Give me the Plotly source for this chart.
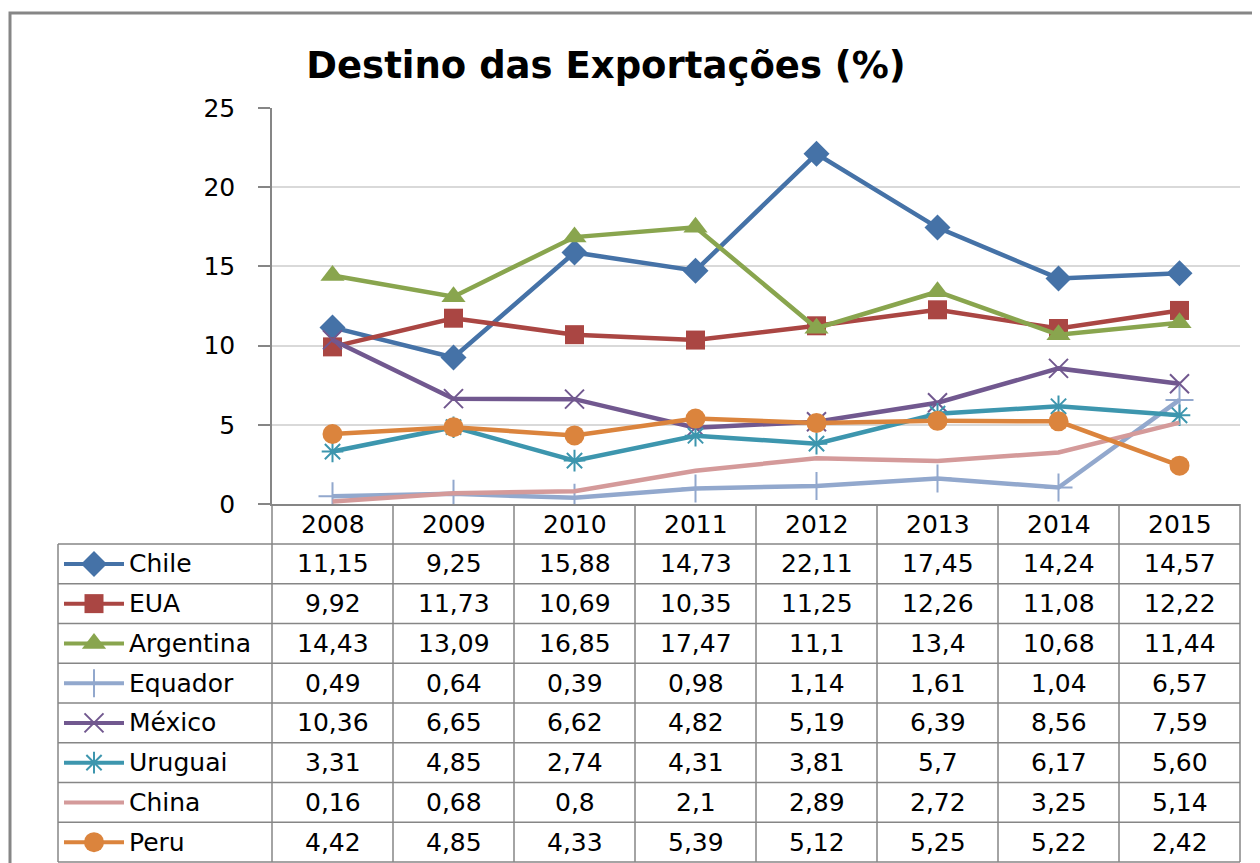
import plotly.graph_objects as go

# dados (como na tabela do Excel)
years = ["2008", "2009", "2010", "2011", "2012", "2013", "2014", "2015"]
countries = ["Chile", "EUA", "Argentina", "Equador", "México", "Uruguai", "China", "Peru"]
chile = ["11,15", "9,25", "15,88", "14,73", "22,11", "17,45", "14,24", "14,57"]
eua = ["9,92", "11,73", "10,69", "10,35", "11,25", "12,26", "11,08", "12,22"]
argentina = ["14,43", "13,09", "16,85", "17,47", "11,1", "13,4", "10,68", "11,44"]
equador = ["0,49", "0,64", "0,39", "0,98", "1,14", "1,61", "1,04", "6,57"]
mexico = ["10,36", "6,65", "6,62", "4,82", "5,19", "6,39", "8,56", "7,59"]
uruguai = ["3,31", "4,85", "2,74", "4,31", "3,81", "5,7", "6,17", "5,60"]
china = ["0,16", "0,68", "0,8", "2,1", "2,89", "2,72", "3,25", "5,14"]
peru = ["4,42", "4,85", "4,33", "5,39", "5,12", "5,25", "5,22", "2,42"]

series = [chile, eua, argentina, equador, mexico, uruguai, china, peru]

# estilos
colors = ["#4572A7", "#AA4643", "#89A54E", "#92A8CD", "#71588F", "#3D96AE", "#D49A9A", "#DB843D"]
symbols = ["diamond", "square", "triangle-up", "cross-thin", "x-thin", "asterisk", None, "circle"]
sizes = [20, 19, 21, 20, 19, 18, 0, 20]

# a pagina tem margem de 8px no body: o grafico comeca em (8, 8)
OFF = 8
W, H = 1252, 855
X0, X1 = 272, 1240      # area do grafico em pixels da tela
Y0, Y25 = 504, 108
ROW_TOP = 544
ROW_H = (862 - ROW_TOP) / 8
COL_W = (X1 - X0) / 8
GRID = "#868686"
FONT = "DejaVu Sans"


def to_num(s):
    return float(s.replace(",", "."))


def fx(x):
    return (x - OFF) / W


def fy(y):
    return 1 - (y - OFF) / H


def marker_for(i):
    sym = symbols[i]
    if sym is None:
        return dict(size=0, opacity=0)
    thin = sym in ("cross-thin", "x-thin", "asterisk")
    return dict(symbol=sym, size=sizes[i], color=colors[i],
                line=dict(color=colors[i], width=2 if thin else 0))


fig = go.Figure()

for i, vals in enumerate(series):
    fig.add_trace(go.Scatter(
        x=years, y=[to_num(v) for v in vals], name=countries[i],
        mode="lines+markers" if symbols[i] else "lines",
        line=dict(color=colors[i], width=4.5),
        marker=marker_for(i), showlegend=False,
        xaxis="x", yaxis="y"))

# simbolos da legenda dentro da tabela (eixo em pixels)
for i in range(len(series)):
    cy = ROW_TOP + ROW_H * (i + 0.5)
    fig.add_trace(go.Scatter(
        x=[64, 94, 124], y=[cy, cy, cy], mode="lines",
        line=dict(color=colors[i], width=4), showlegend=False,
        hoverinfo="skip", xaxis="x2", yaxis="y2"))
    if symbols[i]:
        fig.add_trace(go.Scatter(
            x=[94], y=[cy], mode="markers", marker=marker_for(i),
            showlegend=False, hoverinfo="skip", xaxis="x2", yaxis="y2"))

shapes = []
line = dict(color=GRID, width=1.5)
# linhas horizontais da tabela
for r in range(9):
    y = ROW_TOP + ROW_H * r
    shapes.append(dict(type="line", xref="x2", yref="y2", x0=58, x1=X1, y0=y, y1=y, line=line))
# linhas verticais
for c in range(9):
    x = X0 + COL_W * c
    shapes.append(dict(type="line", xref="x2", yref="y2", x0=x, x1=x, y0=Y0, y1=862, line=line))
shapes.append(dict(type="line", xref="x2", yref="y2", x0=58, x1=58, y0=ROW_TOP, y1=862, line=line))
# moldura externa
shapes.append(dict(type="rect", xref="x2", yref="y2", x0=10, x1=1275, y0=13, y1=880,
                   line=dict(color=GRID, width=3)))

annotations = []
for j, yr in enumerate(years):
    annotations.append(dict(xref="x2", yref="y2", x=X0 + COL_W * (j + 0.5), y=(Y0 + ROW_TOP) / 2,
                            text=yr, showarrow=False, font=dict(size=25, color="black", family=FONT)))
for i, vals in enumerate(series):
    cy = ROW_TOP + ROW_H * (i + 0.5)
    annotations.append(dict(xref="x2", yref="y2", x=127, y=cy, xanchor="left", text=countries[i],
                            showarrow=False, font=dict(size=25, color="black", family=FONT)))
    for j, v in enumerate(vals):
        annotations.append(dict(xref="x2", yref="y2", x=X0 + COL_W * (j + 0.5), y=cy, text=v,
                                showarrow=False, font=dict(size=25, color="black", family=FONT)))

fig.update_layout(
    width=W, height=H,
    margin=dict(l=0, r=0, t=0, b=0, pad=0, autoexpand=False),
    paper_bgcolor="white", plot_bgcolor="rgba(0,0,0,0)",
    font=dict(family=FONT, color="black"),
    title=dict(text="<b>Destino das Exportações (%)</b>", x=fx(606), xanchor="center",
               y=fy(65), yanchor="middle", font=dict(size=37, color="black", family=FONT)),
    xaxis=dict(domain=[fx(X0), fx(X1)], type="category", range=[-0.5, 7.5],
               showticklabels=False, showgrid=False, zeroline=False, automargin=False,
               showline=True, linecolor=GRID, linewidth=1.5, anchor="y"),
    yaxis=dict(domain=[fy(Y0), fy(Y25)], range=[0, 25], dtick=5, automargin=False,
               showgrid=True, gridcolor="#D9D9D9", gridwidth=1.5, zeroline=False,
               showline=True, linecolor=GRID, linewidth=1.5,
               ticks="outside", ticklen=12, tickcolor=GRID, tickwidth=1.5,
               tickfont=dict(size=25, color="black", family=FONT), ticklabelstandoff=18,
               anchor="x"),
    xaxis2=dict(domain=[0, 1], range=[OFF, OFF + W], visible=False, anchor="y2", automargin=False),
    yaxis2=dict(domain=[0, 1], range=[OFF + H, OFF], visible=False, anchor="x2", automargin=False),
    shapes=shapes, annotations=annotations,
)

fig.write_html("out.html")
